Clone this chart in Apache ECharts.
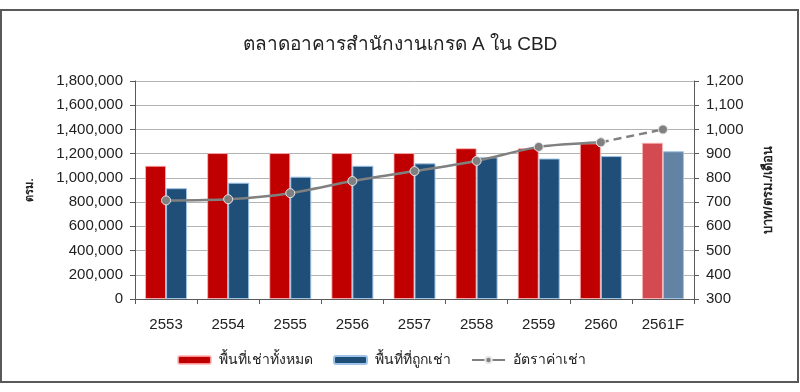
<!DOCTYPE html>
<html>
<head>
<meta charset="utf-8" />
<title>ตลาดอาคารสำนักงานเกรด A ใน CBD</title>
<style>
  html, body { margin: 0; padding: 0; background: #fff; }
  #chartBox { width: 800px; height: 392px; }
</style>
</head>
<body>
<div id="chartBox"></div>
<script src="https://cdn.jsdelivr.net/npm/echarts@6/dist/echarts.min.js"></script>
<script>
  // ข้อมูล
  var years = ['2553', '2554', '2555', '2556', '2557', '2558', '2559', '2560', '2561F'];
  var totalArea = [1100000, 1205000, 1205000, 1205000, 1205000, 1245000, 1245000, 1285000, 1290000];
  var leasedArea = [915000, 960000, 1010000, 1100000, 1120000, 1170000, 1160000, 1180000, 1220000];
  var rentRate = [707, 712, 737, 787, 828, 870, 928, 947, 1000];
  var forecastFrom = 7; // 2560 -> 2561F เป็นเส้นประ

  var _font = '"Liberation Sans", "Noto Sans", sans-serif';
  var _fontSize = 15;

  function withForecast(arr, foreColor) {
    var out = [];
    for (var i = 0; i < arr.length; i++) {
      if (i > forecastFrom) {
        out.push({ value: arr[i], itemStyle: { color: foreColor } });
      } else {
        out.push(arr[i]);
      }
    }
    return out;
  }

  var rentSolid = [], rentDash = [];
  for (var i = 0; i < rentRate.length; i++) {
    rentSolid.push(i <= forecastFrom ? rentRate[i] : null);
    rentDash.push(i >= forecastFrom ? rentRate[i] : null);
  }

  function fmt(v) {
    return String(v).replace(/\B(?=(\d{3})+(?!\d))/g, ',');
  }

  var myChart = echarts.init(document.getElementById('chartBox'));
  var option = {
    backgroundColor: '#fff',
    animation: false,
    title: {
      text: 'ตลาดอาคารสำนักงานเกรด A ใน CBD',
      left: 'center',
      top: 30,
      textStyle: { fontSize: 19, fontWeight: 'normal', color: '#222', fontFamily: _font }
    },
    graphic: [{
      type: 'rect',
      shape: { x: 1, y: 10, width: 797, height: 372 },
      style: { fill: 'none', stroke: '#595959', lineWidth: 2 },
      silent: true
    }],
    legend: {
      data: ['พื้นที่เช่าทั้งหมด', 'พื้นที่ที่ถูกเช่า', 'อัตราค่าเช่า'],
      bottom: 20,
      left: 172,
      itemWidth: 33,
      itemHeight: 8,
      itemGap: 20,
      textStyle: { fontSize: 14, color: '#222', fontFamily: _font, padding: [0, 0, 0, 3] }
    },
    grid: { left: 135, right: 106, top: 81, bottom: 93 },
    xAxis: {
      type: 'category',
      data: years,
      axisLine: { lineStyle: { color: '#595959', width: 1 } },
      axisTick: { show: true, length: 5, lineStyle: { color: '#595959' } },
      axisLabel: { color: '#222', fontSize: _fontSize, fontFamily: _font, margin: 18 }
    },
    yAxis: [{
      type: 'value',
      min: 0,
      max: 1800000,
      interval: 200000,
      name: 'ตรม.',
      nameLocation: 'middle',
      nameRotate: 90,
      nameGap: 100,
      nameTextStyle: { fontSize: 11, fontWeight: 'bold', color: '#222' },
      axisLine: { show: true, lineStyle: { color: '#595959' } },
      axisTick: { show: true, length: 5, lineStyle: { color: '#595959' } },
      axisLabel: { color: '#222', fontSize: _fontSize, fontFamily: _font, margin: 12, formatter: fmt },
      splitLine: { lineStyle: { color: '#b3b3b3' } }
    }, {
      type: 'value',
      min: 300,
      max: 1200,
      interval: 100,
      position: 'right',
      name: 'บาท/ตรม./เดือน',
      nameLocation: 'middle',
      nameRotate: 90,
      nameGap: 68,
      nameTextStyle: { fontSize: 13, fontWeight: 'bold', color: '#222' },
      axisLine: { show: true, lineStyle: { color: '#595959' } },
      axisTick: { show: true, length: 5, lineStyle: { color: '#595959' } },
      axisLabel: { color: '#222', fontSize: _fontSize, fontFamily: _font, margin: 12, formatter: fmt },
      splitLine: { show: false }
    }],
    series: [{
      name: 'พื้นที่เช่าทั้งหมด',
      type: 'bar',
      barWidth: 21,
      barGap: '0%',
      itemStyle: { color: '#c00000', borderColor: 'rgba(255,180,180,0.8)', borderWidth: 1 },
      data: withForecast(totalArea, '#d34b51')
    }, {
      name: 'พื้นที่ที่ถูกเช่า',
      type: 'bar',
      barWidth: 21,
      itemStyle: { color: '#1f4e79', borderColor: '#9dc3e6', borderWidth: 1 },
      data: withForecast(leasedArea, '#6283a4')
    }, {
      name: 'อัตราค่าเช่า',
      type: 'line',
      yAxisIndex: 1,
      smooth: 0.25,
      symbol: 'circle',
      symbolSize: 9,
      lineStyle: { color: '#808080', width: 2.5 },
      itemStyle: { color: '#808080', borderColor: '#e6e6e6', borderWidth: 1 },
      data: rentSolid,
      z: 5
    }, {
      name: 'อัตราค่าเช่า',
      type: 'line',
      yAxisIndex: 1,
      symbol: 'circle',
      symbolSize: 9,
      lineStyle: { color: '#808080', width: 2.5, type: [8, 5] },
      itemStyle: { color: '#808080', borderColor: '#e6e6e6', borderWidth: 1 },
      data: rentDash,
      z: 4
    }]
  };
  myChart.setOption(option);
</script>
</body>
</html>
